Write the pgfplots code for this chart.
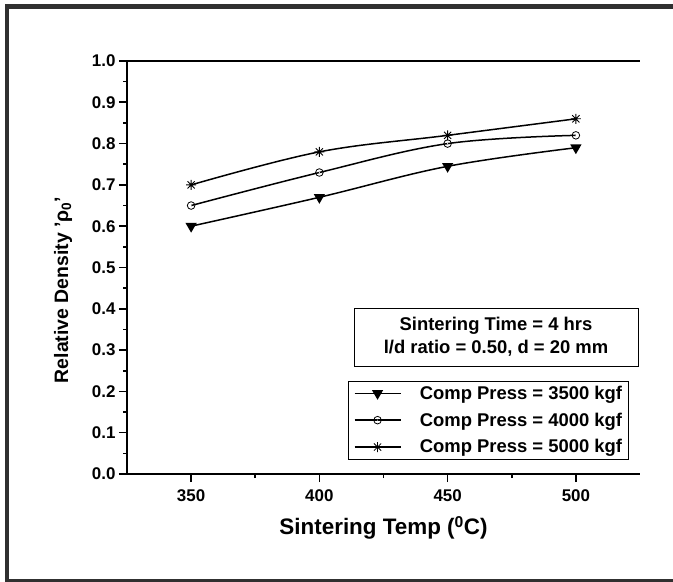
\documentclass[border=0pt]{standalone}
\usepackage{fontspec}
\setmainfont{Liberation Sans}
\usepackage{pgfplots}
\pgfplotsset{compat=1.18}
\usetikzlibrary{plotmarks,calc}

\definecolor{frame}{HTML}{303030}

% Origin-like marks
\pgfdeclareplotmark{dotcircle}{%
  \pgfpathcircle{\pgfpoint{0pt}{0pt}}{\pgfplotmarksize}\pgfusepathqstroke
  \pgfpathcircle{\pgfpoint{0pt}{0pt}}{0.5pt}\pgfusepathqfill}
\pgfdeclareplotmark{star8}{%
  \pgfpathmoveto{\pgfpoint{0pt}{\pgfplotmarksize}}\pgfpathlineto{\pgfpoint{0pt}{-\pgfplotmarksize}}%
  \pgfpathmoveto{\pgfpoint{\pgfplotmarksize}{0pt}}\pgfpathlineto{\pgfpoint{-\pgfplotmarksize}{0pt}}%
  \pgfpathmoveto{\pgfpoint{0.72\pgfplotmarksize}{0.72\pgfplotmarksize}}\pgfpathlineto{\pgfpoint{-0.72\pgfplotmarksize}{-0.72\pgfplotmarksize}}%
  \pgfpathmoveto{\pgfpoint{-0.72\pgfplotmarksize}{0.72\pgfplotmarksize}}\pgfpathlineto{\pgfpoint{0.72\pgfplotmarksize}{-0.72\pgfplotmarksize}}%
  \pgfusepathqstroke}

\begin{document}
\begin{tikzpicture}
\useasboundingbox (0,0) rectangle (673bp,582bp);
\fill[frame] (5bp,0) rectangle (9bp,578bp);
\fill[frame] (5bp,573bp) rectangle (673bp,578bp);
\fill[frame] (5bp,0) rectangle (673bp,2.5bp);

\begin{axis}[at={(127bp,108bp)},anchor=south west,
  scale only axis,width=513bp,height=413bp,
  xmin=325,xmax=525,ymin=0,ymax=1,
  axis x line=bottom,axis y line=left,
  axis line style={-,line width=1.6bp},
  xtick={350,400,450,500},minor x tick num=1,
  ytick={0,0.1,...,1.0},minor y tick num=1,
  tick align=outside,
  major tick length=8bp,minor tick length=4bp,
  every tick/.style={black,line width=1.6bp},
  /pgf/number format/assume math mode=true,
  ticklabel style={font=\fontsize{17}{17}\selectfont\bfseries},
  xticklabel style={yshift=-4bp},
  yticklabel style={/pgf/number format/.cd,fixed,fixed zerofill,precision=1},
  xlabel={Sintering Temp (\textsuperscript{0}C)},
  ylabel={Relative Density 'ρ\textsubscript{0}'},
  xlabel style={font=\fontsize{22.5}{22.5}\selectfont\bfseries,yshift=-8bp},
  every axis y label/.style={at={($(rel axis cs:0,0.4455)+(-64bp,0)$)},rotate=90,anchor=center,
    font=\fontsize{19.5}{19.5}\selectfont\bfseries},
  legend style={at={(0.9786,0.2252)},anchor=north east,draw=black,line width=0.8bp,
    font=\fontsize{18.5}{25}\selectfont\bfseries,inner xsep=5bp,inner ysep=3bp,
    nodes={inner sep=1.5bp},row sep=9bp},
  legend cell align=left,
  legend image code/.code={\draw[mark repeat=2,mark phase=2,line width=1.5bp]
    plot coordinates {(0bp,0bp) (23bp,0bp) (46bp,0bp)};},
  /tikz/every odd column/.append style={column sep=17bp},
  clip=false]
\addplot[black,line width=1.5bp,smooth,tension=0.6,mark=triangle*,mark size=5bp,
  mark options={rotate=180,solid,fill=black}]
  coordinates {(350,0.60) (400,0.67) (450,0.745) (500,0.79)};
\addplot[black,line width=1.5bp,smooth,tension=0.6,mark=dotcircle,mark size=3.8bp,
  mark options={solid,fill=white,line width=0.8bp}]
  coordinates {(350,0.65) (400,0.73) (450,0.80) (500,0.82)};
\addplot[black,line width=1.5bp,smooth,tension=0.6,mark=star8,mark size=5bp,
  mark options={solid,line width=0.8bp}]
  coordinates {(350,0.70) (400,0.78) (450,0.82) (500,0.86)};
\legend{Comp Press = 3500 kgf,Comp Press = 4000 kgf,Comp Press = 5000 kgf}
\draw[line width=1.5bp] (axis cs:325,1) -- (axis cs:525,1);
\node[draw=black,line width=0.8bp,fill=white,minimum width=284bp,minimum height=58bp,
  align=center,font=\fontsize{18.5}{23}\selectfont\bfseries,inner sep=0pt]
  at (rel axis cs:0.7193,0.3317) {Sintering Time = 4 hrs\\l/d ratio = 0.50, d = 20 mm};
\end{axis}
\end{tikzpicture}
\end{document}
